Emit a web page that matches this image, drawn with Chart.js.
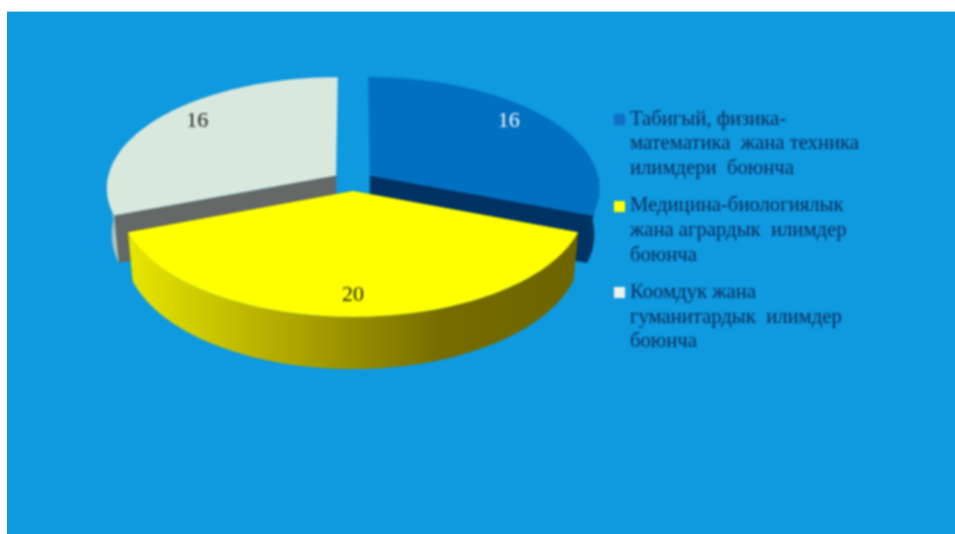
<!DOCTYPE html>
<html>
<head>
<meta charset="utf-8">
<script src="https://cdn.jsdelivr.net/npm/chart.js@4"></script>
<style>
  html, body { margin: 0; background: #fff; overflow: hidden; }
  #panel { position: absolute; left: 7px; top: 12px; width: 948px; height: 522px; background: #0f99df; box-shadow: 0 -1px 0 #9fd6f2; }
  #wrap { position: absolute; left: 0; top: 0; width: 955px; height: 534px; filter: blur(0.8px); }
</style>
</head>
<body>
<div id="panel"></div>
<div id="wrap"><canvas id="pie"></canvas></div>
<script>
const categories = [
  ['Табигый, физика-', 'математика  жана техника', 'илимдери  боюнча'],
  ['Медицина-биологиялык', 'жана агрардык  илимдер', 'боюнча'],
  ['Коомдук жана', 'гуманитардык  илимдер', 'боюнча']
];
const seriesValues = [16, 20, 16];

const topColors = ['#0070c0', '#ffff00', '#d8e8dc'];
const edgeColors = ['#003264', '#808000', '#646866'];
const rimColors = ['#002f5c', null, '#b4c2ba'];
const labelColors = ['#ffffff', '#1a1a00', '#222222'];
const swatchColors = ['#0f6fc4', '#ffff00', '#eef2ec'];
const labelRadius = [0.78, 0.84, 0.78];
const labelLift = [8, 0, 8];

// pie plane -> screen, a small perspective so the near side looks bigger
const cx = 353, cy = 181, rx = 229, ry = 110, persp = 0.108, depth = 46, explode = 0.09;

function project(X, Y, z) {
  const w = 1 - persp * Y;
  const s = 1 - 0.02 * z;
  return [cx + rx * X / w * s, cy + ry * Y / w + depth * z / w];
}

function slicePoint(arc, angle, r, z) {
  const mid = (arc.startAngle + arc.endAngle) / 2;
  return project(r * Math.cos(angle) + explode * Math.cos(mid), r * Math.sin(angle) + explode * Math.sin(mid), z);
}

function arcPoints(arc, from, to, z) {
  const pts = [];
  const n = 80;
  for (let i = 0; i <= n; i++) {
    pts.push(slicePoint(arc, from + (to - from) * i / n, 1, z));
  }
  return pts;
}

function fillPath(ctx, pts, color) {
  ctx.beginPath();
  pts.forEach((p, i) => (i ? ctx.lineTo(p[0], p[1]) : ctx.moveTo(p[0], p[1])));
  ctx.closePath();
  ctx.fillStyle = color;
  ctx.fill();
}

// legend squares sit closer to the text than the default box allows
function makeSwatch(color) {
  const c = document.createElement('canvas');
  c.width = 11;
  c.height = 11;
  const g = c.getContext('2d');
  g.fillStyle = color;
  g.fillRect(0, 0, 11, 11);
  return c;
}

const pie3d = {
  id: 'pie3d',
  beforeDatasetsDraw(chart) {
    const ctx = chart.ctx;
    const arcs = chart.getDatasetMeta(0).data;

    const yellowRim = ctx.createLinearGradient(130, 0, 577, 0);
    yellowRim.addColorStop(0, '#e6e600');
    yellowRim.addColorStop(0.35, '#b0a800');
    yellowRim.addColorStop(0.7, '#766c00');
    yellowRim.addColorStop(1, '#6e6400');

    // back slices first, the yellow one sits in front of them
    [0, 2, 1].forEach((i) => {
      const arc = arcs[i];
      const apexTop = slicePoint(arc, 0, 0, 0);
      const apexBottom = slicePoint(arc, 0, 0, 1);
      [arc.startAngle, arc.endAngle].forEach((a) => {
        if (Math.sin(a) > 0) {
          fillPath(ctx, [apexTop, slicePoint(arc, a, 1, 0), slicePoint(arc, a, 1, 1), apexBottom], edgeColors[i]);
        }
      });
      // only the part of the rim that faces the viewer
      const from = Math.max(arc.startAngle, 0);
      const to = Math.min(arc.endAngle, Math.PI);
      fillPath(ctx, arcPoints(arc, from, to, 0).concat(arcPoints(arc, from, to, 1).reverse()), rimColors[i] || yellowRim);
      fillPath(ctx, [apexTop].concat(arcPoints(arc, arc.startAngle, arc.endAngle, 0)), topColors[i]);
    });

    ctx.font = '22px "Liberation Serif"';
    ctx.textAlign = 'center';
    ctx.textBaseline = 'middle';
    arcs.forEach((arc, i) => {
      const mid = (arc.startAngle + arc.endAngle) / 2;
      const p = slicePoint(arc, mid, labelRadius[i], 0);
      ctx.fillStyle = labelColors[i];
      ctx.fillText(String(seriesValues[i]), p[0], p[1] - labelLift[i]);
    });
    return false;
  }
};

const config = {
  type: 'pie',
  data: {
    labels: categories,
    datasets: [{
      data: seriesValues,
      backgroundColor: topColors,
      borderWidth: 0
    }]
  },
  plugins: [pie3d],
  options: {
    responsive: true,
    maintainAspectRatio: false,
    animation: false,
    layout: {
      padding: { top: 96, right: 86 }
    },
    plugins: {
      tooltip: { enabled: false },
      legend: {
        position: 'right',
        align: 'start',
        labels: {
          usePointStyle: true,
          boxWidth: 1,
          boxHeight: 10,
          padding: 13,
          color: '#0d2a58',
          font: { family: '"Liberation Serif"', size: 20.7, lineHeight: 1.186 },
          generateLabels(chart) {
            return Chart.overrides.pie.plugins.legend.labels.generateLabels(chart).map((item, i) => {
              item.pointStyle = makeSwatch(swatchColors[i]);
              return item;
            });
          }
        }
      }
    }
  }
};

new Chart(document.getElementById('pie'), config);
</script>
</body>
</html>
